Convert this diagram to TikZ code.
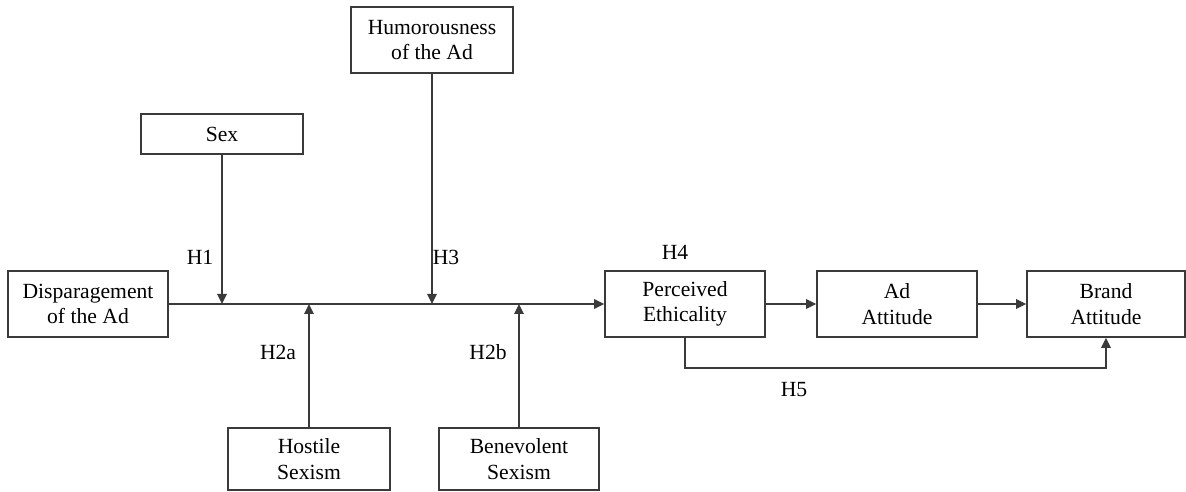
\documentclass[tikz,border=0pt]{standalone}
\usepackage{fontspec}
\setmainfont{Liberation Serif}
\usetikzlibrary{arrows.meta, positioning}
\definecolor{linegray}{HTML}{3A3A3A}

\begin{document}
\begin{tikzpicture}[x=0.02cm, y=-0.02cm,
    box/.style={draw=linegray, line width=0.9pt, align=center, inner sep=0pt,
        minimum width=3.2cm, minimum height=1.32cm, font=\fontsize{12.3}{14.5}\selectfont},
    link/.style={draw=linegray, line width=0.9pt, -{Triangle[length=2mm,width=1.9mm]}},
    hyp/.style={font=\fontsize{12.3}{14.5}\selectfont}]
\useasboundingbox (0,0) rectangle (1186,492);

% Construct boxes
\node[box] (dispar) at (88,304) {Disparagement\\of the Ad};
\node[box, minimum width=3.24cm, minimum height=0.8cm] (sex) at (222,134) {Sex};
\node[box, minimum width=3.24cm] (humor) at (432,40) {Humorousness\\of the Ad};
\node[box, minimum width=3.24cm, minimum height=1.24cm] (hostile) at (309,459) {Hostile\\Sexism};
\node[box, minimum height=1.24cm] (benev) at (519,459) {Benevolent\\Sexism};
\node[box] (ethic) at (685,304) {Perceived\\Ethicality};
\node[box] (adatt) at (897,304) {Ad\\Attitude};
\node[box, minimum width=3.16cm] (brand) at (1106,304) {Brand\\Attitude};

% Main path
\draw[link] (dispar) -- (ethic);
\draw[link] (ethic) -- (adatt);
\draw[link] (adatt) -- (brand);

% Moderators
\draw[link] (sex) -- (sex |- dispar);
\draw[link] (humor) -- (humor |- dispar);
\draw[link] (hostile) -- (hostile |- dispar);
\draw[link] (benev) -- (benev |- dispar);

% Direct effect
\draw[link] (ethic.south) -- ++(0,30) -| (brand.south);

% Hypothesis labels
\node[hyp] (h1) at (200,257) {H1};
\node[hyp] (h3) at (446,257) {H3};
\node[hyp] (h2a) at (278,352) {H2a};
\node[hyp] (h2b) at (488,352) {H2b};
\node[hyp] (h4) at (675,252) {H4};
\node[hyp] (h5) at (794,390) {H5};

\end{tikzpicture}
\end{document}
